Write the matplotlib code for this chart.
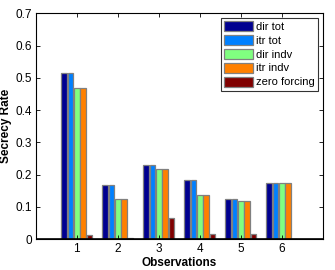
import matplotlib
matplotlib.use("Agg")
import matplotlib.pyplot as plt
import numpy as np

plt.rcParams['font.family'] = ['Liberation Sans', 'DejaVu Sans']

observations = [1, 2, 3, 4, 5, 6]
series_names = ['dir tot', 'itr tot', 'dir indv', 'itr indv', 'zero forcing']
dir_tot = [0.515, 0.168, 0.230, 0.184, 0.125, 0.173]
itr_tot = [0.515, 0.168, 0.230, 0.184, 0.125, 0.173]
dir_indv = [0.469, 0.125, 0.217, 0.138, 0.118, 0.173]
itr_indv = [0.469, 0.125, 0.217, 0.138, 0.118, 0.173]
zero_forcing = [0.013, 0.004, 0.065, 0.017, 0.017, 0.002]
colors = ['#000090', '#0080ff', '#80ff80', '#ff8000', '#800000']

series = [dir_tot, itr_tot, dir_indv, itr_indv, zero_forcing]

fig = plt.figure(figsize=(3.35, 2.7), dpi=100)
ax = fig.add_axes([0.107, 0.114, 0.857, 0.837])

x = np.array(observations)
n = len(series)
step = 0.154
bar_w = 0.14
for i, vals in enumerate(series):
    off = (i - (n - 1) / 2) * step
    ax.bar(x + off, vals, bar_w, color=colors[i], edgecolor='0.5',
           linewidth=0.9, label=series_names[i])

ax.axhline(0, color='black', lw=1.2, zorder=5)

ax.set_xlim(0, 7)
ax.set_ylim(0, 0.7)
ax.set_xticks(observations)
ax.set_yticks(np.arange(0, 0.71, 0.1))
ax.set_yticklabels(['0', '0.1', '0.2', '0.3', '0.4', '0.5', '0.6', '0.7'])
ax.tick_params(direction='in', top=True, right=True, length=3, width=0.6,
               labelsize=8.5, pad=3)
for s in ax.spines.values():
    s.set_linewidth(0.8)

ax.set_xlabel('Observations', fontsize=8.5, fontweight='bold', labelpad=1)
ax.set_ylabel('Secrecy Rate', fontsize=8.5, fontweight='bold', labelpad=2)

leg = ax.legend(loc='upper right', fontsize=8, handlelength=2.6,
                handleheight=1.0, labelspacing=0.28, handletextpad=0.3,
                borderpad=0.3, borderaxespad=0.4, fancybox=False)
leg.get_frame().set_edgecolor('black')
leg.get_frame().set_linewidth(0.8)

fig.savefig('out.png', dpi=100)
